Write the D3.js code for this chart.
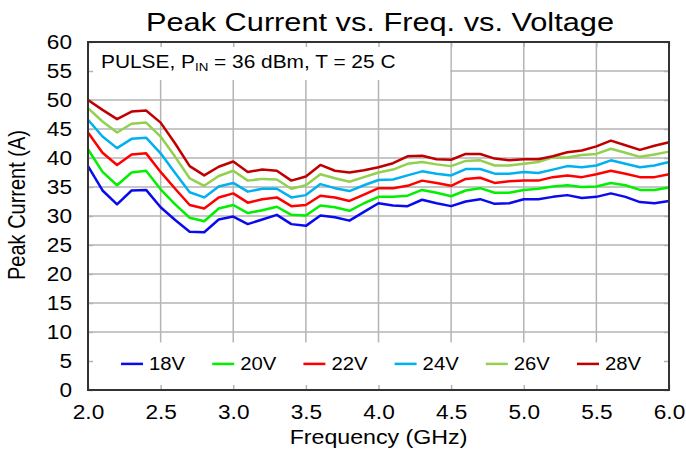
<!DOCTYPE html>
<html>
<head>
<meta charset="utf-8">
<script src="https://cdn.jsdelivr.net/npm/d3@7"></script>
<style>
  body { margin: 0; background: #fff; }
  svg { font-family: 'Liberation Sans', Arial, sans-serif; }
</style>
</head>
<body>
<script>
'use strict';

// frequency points, GHz
const freqs = d3.range(41).map(function(i) { return +(2 + i * 0.1).toFixed(1); });

const v18 = [38.6, 34.4, 32.0, 34.4, 34.5, 31.5, 29.3, 27.3, 27.2, 29.4, 29.9, 28.6, 29.4, 30.2, 28.6, 28.3, 30.1, 29.8, 29.2, 30.7,
  32.2, 31.8, 31.7, 32.8, 32.2, 31.7, 32.5, 32.9, 32.1, 32.2, 32.9, 32.9, 33.3, 33.6, 33.1, 33.3, 33.9, 33.3, 32.4, 32.2, 32.6];
const v20 = [41.5, 37.6, 35.3, 37.5, 37.8, 34.6, 32.0, 29.7, 29.1, 31.3, 31.9, 30.5, 31.0, 31.6, 30.2, 30.1, 31.8, 31.5, 30.9, 32.2,
  33.3, 33.3, 33.5, 34.5, 34.0, 33.4, 34.4, 34.8, 34.0, 34.0, 34.5, 34.7, 35.1, 35.3, 35.0, 35.1, 35.7, 35.3, 34.5, 34.5, 34.9];
const v22 = [44.4, 40.9, 38.8, 40.6, 40.8, 37.6, 34.7, 31.9, 31.3, 33.2, 33.9, 32.3, 32.9, 33.2, 31.7, 31.9, 33.5, 33.2, 32.6, 33.7,
  34.8, 34.8, 35.2, 36.1, 35.7, 35.2, 36.4, 36.6, 35.7, 36.0, 36.1, 36.1, 36.7, 37.0, 36.7, 37.2, 37.8, 37.3, 36.7, 36.7, 37.2];
const v24 = [46.6, 43.7, 41.7, 43.3, 43.5, 40.8, 37.4, 34.1, 33.2, 35.1, 35.7, 34.2, 34.7, 34.7, 33.2, 33.6, 35.5, 34.8, 34.3, 35.3,
  36.2, 36.3, 37.0, 37.7, 37.3, 37.0, 38.1, 38.1, 37.3, 37.3, 37.6, 37.4, 38.0, 38.6, 38.4, 38.7, 39.6, 39.0, 38.4, 38.7, 39.3];
const v26 = [48.6, 46.3, 44.4, 45.9, 46.1, 43.7, 40.2, 36.5, 35.2, 36.9, 37.8, 36.1, 36.4, 36.3, 34.7, 35.3, 37.2, 36.5, 35.9, 36.7,
  37.5, 38.0, 39.0, 39.3, 38.9, 38.6, 39.5, 39.6, 38.7, 38.7, 39.0, 39.3, 40.1, 40.1, 40.5, 40.7, 41.6, 40.9, 40.2, 40.6, 41.1];
const v28 = [50.0, 48.3, 46.7, 48.0, 48.2, 46.1, 42.5, 38.6, 37.0, 38.5, 39.4, 37.6, 38.0, 37.8, 36.1, 36.8, 38.8, 37.8, 37.5, 37.9,
  38.4, 39.1, 40.3, 40.4, 39.8, 39.7, 40.7, 40.7, 39.9, 39.6, 39.8, 39.8, 40.3, 41.0, 41.3, 42.0, 43.0, 42.2, 41.4, 42.1, 42.7];

const seriesNames = ['18V', '20V', '22V', '24V', '26V', '28V'];
const seriesValues = [v18, v20, v22, v24, v26, v28];
const seriesColors = ['#0a0aee', '#00f000', '#ff0000', '#00b0f0', '#92d050', '#c00000'];

const xTicks = [2.0, 2.5, 3.0, 3.5, 4.0, 4.5, 5.0, 5.5, 6.0];
const yTicks = d3.range(0, 61, 5);

const width = 686;
const height = 453;
const margin = { top: 42, right: 17, bottom: 63, left: 88 };
const plotW = width - margin.left - margin.right;
const plotH = height - margin.top - margin.bottom;
const stretch = 1.16; // the original text is a little wider than it is tall
const gridColor = '#b4b4b4';

const x = d3.scaleLinear().domain([2, 6]).range([0, plotW]);
const y = d3.scaleLinear().domain([0, 60]).range([plotH, 0]);

const svg = d3.select('body').append('svg')
  .attr('width', width)
  .attr('height', height);

function wideText(parent, px, py, size) {
  return parent.append('text')
    .attr('transform', 'translate(' + px + ',' + py + ') scale(' + stretch + ',1)')
    .style('font-size', size + 'px');
}

wideText(svg, 380, 31, 26.5)
  .attr('text-anchor', 'middle')
  .text('Peak Current vs. Freq. vs. Voltage');

const g = svg.append('g')
  .attr('transform', 'translate(' + margin.left + ',' + margin.top + ')');

// grid
g.selectAll('.vgrid')
  .data(xTicks.slice(1, -1))
  .enter().append('line')
  .attr('x1', function(d) { return x(d); })
  .attr('x2', function(d) { return x(d); })
  .attr('y1', 0)
  .attr('y2', plotH)
  .attr('stroke', gridColor)
  .attr('stroke-width', 1.5);

g.selectAll('.hgrid')
  .data(yTicks.slice(1, -1))
  .enter().append('line')
  .attr('x1', 0)
  .attr('x2', plotW)
  .attr('y1', function(d) { return y(d); })
  .attr('y2', function(d) { return y(d); })
  .attr('stroke', gridColor)
  .attr('stroke-width', 1.5);

// annotation and legend backgrounds cover the grid
g.append('rect')
  .attr('x', 0).attr('y', 0)
  .attr('width', x(4.5) - 1).attr('height', 38)
  .attr('fill', '#fff');

g.append('rect')
  .attr('x', 0).attr('y', y(8.2))
  .attr('width', plotW).attr('height', plotH - y(8.2))
  .attr('fill', '#fff');

// inward ticks on all four sides
const tickLen = 5;
function styleTicks(s) {
  s.select('.domain').remove();
  s.selectAll('line').attr('stroke', gridColor).attr('stroke-width', 1.5);
}
g.append('g')
  .attr('transform', 'translate(0,' + plotH + ')')
  .call(d3.axisBottom(x).tickValues(xTicks).tickSizeInner(-tickLen).tickSizeOuter(0).tickFormat(''))
  .call(styleTicks);
g.append('g')
  .call(d3.axisTop(x).tickValues(xTicks).tickSizeInner(-tickLen).tickSizeOuter(0).tickFormat(''))
  .call(styleTicks);
g.append('g')
  .call(d3.axisLeft(y).tickValues(yTicks).tickSizeInner(-tickLen).tickSizeOuter(0).tickFormat(''))
  .call(styleTicks);
g.append('g')
  .attr('transform', 'translate(' + plotW + ',0)')
  .call(d3.axisRight(y).tickValues(yTicks).tickSizeInner(-tickLen).tickSizeOuter(0).tickFormat(''))
  .call(styleTicks);

// tick labels
g.append('g')
  .attr('transform', 'translate(0,' + plotH + ')')
  .call(d3.axisBottom(x).tickValues(xTicks).tickSize(0).tickPadding(15).tickFormat(d3.format('.1f')))
  .call(function(s) { s.select('.domain').remove(); })
  .selectAll('text')
  .attr('fill', '#000')
  .attr('transform', 'scale(' + stretch + ',1)')
  .style('font-size', '19.5px')
  .style('font-family', "'Liberation Sans', Arial, sans-serif");

g.append('g')
  .call(d3.axisLeft(y).tickValues(yTicks).tickSize(0).tickPadding(16 / stretch).tickFormat(d3.format('d')))
  .call(function(s) { s.select('.domain').remove(); })
  .selectAll('text')
  .attr('fill', '#000')
  .attr('transform', 'scale(' + stretch + ',1)')
  .style('font-size', '19.5px')
  .style('font-family', "'Liberation Sans', Arial, sans-serif");

// lines
const line = d3.line()
  .x(function(d, i) { return x(freqs[i]); })
  .y(function(d) { return y(d); });

g.selectAll('.series')
  .data(seriesValues)
  .enter().append('path')
  .attr('d', line)
  .attr('fill', 'none')
  .attr('stroke', function(d, i) { return seriesColors[i]; })
  .attr('stroke-width', 2.5)
  .attr('stroke-linejoin', 'round');

// plot border
g.append('rect')
  .attr('width', plotW)
  .attr('height', plotH)
  .attr('fill', 'none')
  .attr('stroke', '#333')
  .attr('stroke-width', 2);

// annotation
const note = wideText(g, 13, 26, 18);
note.append('tspan').text('PULSE, P');
note.append('tspan').attr('dy', 3).style('font-size', '11.5px').text('IN');
note.append('tspan').attr('dy', -3).text(' = 36 dBm, T = 25 C');

// legend
const legend = g.selectAll('.legend')
  .data(seriesNames)
  .enter().append('g')
  .attr('transform', function(d, i) { return 'translate(' + (33 + i * 91.2) + ',' + (y(4.5)) + ')'; });

legend.append('line')
  .attr('x1', 0).attr('x2', 22)
  .attr('stroke', function(d, i) { return seriesColors[i]; })
  .attr('stroke-width', 2.5);

legend.append('text')
  .attr('transform', 'translate(28,0) scale(' + stretch + ',1)')
  .attr('dy', '0.35em')
  .style('font-size', '17.5px')
  .text(function(d) { return d; });

// axis titles
svg.append('text')
  .attr('transform', 'translate(25,205) rotate(-90) scale(1,' + stretch + ')')
  .attr('text-anchor', 'middle')
  .style('font-size', '20px')
  .text('Peak Current (A)');

wideText(svg, margin.left + plotW / 2, 444, 20)
  .attr('text-anchor', 'middle')
  .text('Frequency (GHz)');
</script>
</body>
</html>
